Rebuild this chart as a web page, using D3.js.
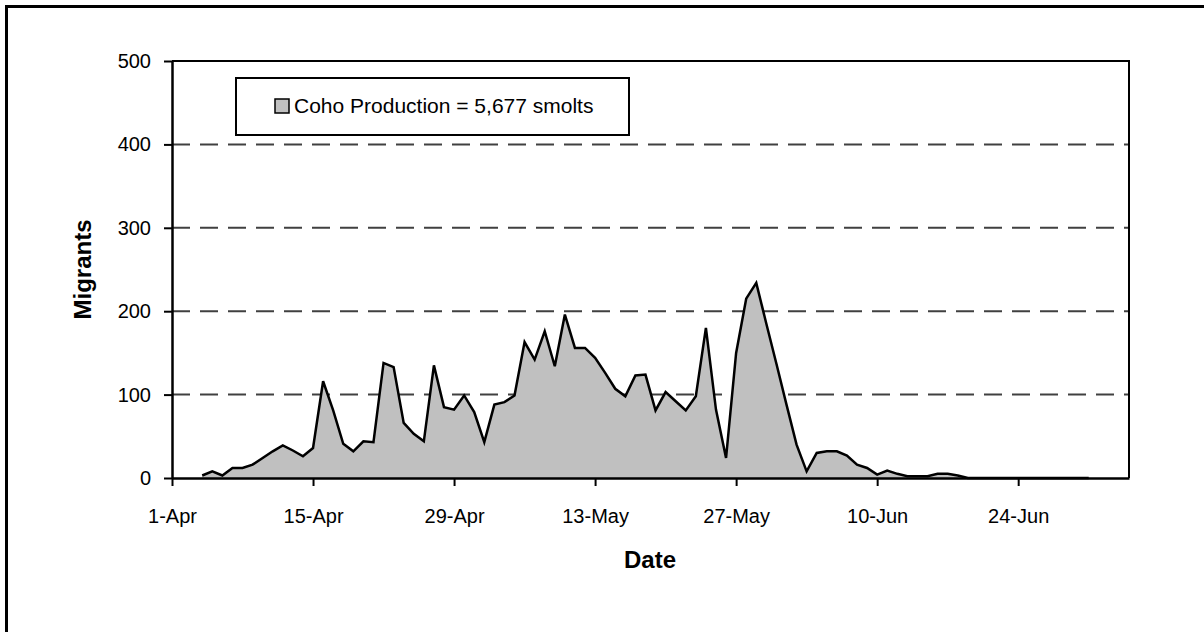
<!DOCTYPE html>
<html>
<head>
<meta charset="utf-8">
<script src="https://cdn.jsdelivr.net/npm/d3@7"></script>
<style>
  html, body { margin: 0; padding: 0; background: #fff; }
  svg { display: block; font-family: "Liberation Sans", Arial, sans-serif; }
</style>
</head>
<body>
<svg id="chart" width="1204" height="632"></svg>
<script>
// ---- Data (daily coho smolt migrants, starting 4-Apr) ----
const startDate = "2005-04-04";
const migrants = [
  3, 8, 3, 12, 12, 16, 24, 32, 39, 33, 26, 36,          // 4-Apr .. 15-Apr
  116, 81, 41, 32, 44, 43, 138, 133, 66, 53, 44, 135, 85, 82, // 16-Apr .. 29-Apr
  99, 79, 43, 88, 91, 99, 163, 142, 176, 134, 196, 156, 156, 144, // 30-Apr .. 13-May
  126, 107, 98, 123, 124, 81, 103, 92, 81, 98, 180, 82, 24, 150, // 14-May .. 27-May
  215, 234, 185, 137, 88, 40, 8, 30, 32, 32, 27, 16, 12, 4, 9, 5, 2, 2, 2, 5, 5, 3, // 28-May .. 18-Jun
  0, 0, 0, 0, 0, 0, 0, 0, 0, 0, 0, 0, 0                  // 19-Jun .. 1-Jul
];
const xDomain = ["2005-04-01", "2005-07-05"];
const xTickDates = ["2005-04-01", "2005-04-15", "2005-04-29", "2005-05-13", "2005-05-27", "2005-06-10", "2005-06-24"];
const yTicks = [0, 100, 200, 300, 400, 500];
const yGrid = [100, 200, 300, 400];
const legendLabel = "Coho Production = 5,677 smolts";
const xTitle = "Date";
const yTitle = "Migrants";

// ---- Build ----
(function () {
const parse = d3.utcParse("%Y-%m-%d");
const t0 = parse(startDate);
const data = migrants.map((v, i) => ({ date: d3.utcDay.offset(t0, i), value: v }));

const svg = d3.select("#chart");
const pL = 172, pR = 1129, pT = 61, pB = 478;

const x = d3.scaleUtc().domain(xDomain.map(parse)).range([pL, pR]);
const y = d3.scaleLinear().domain([0, 500]).range([pB, pT]);

// outer frame (extends past the picture on right/bottom)
svg.append("rect")
  .attr("x", 6.5).attr("y", 6.5).attr("width", 1260).attr("height", 700)
  .attr("fill", "none").attr("stroke", "#000").attr("stroke-width", 3);

// gridlines
svg.append("g").selectAll("line").data(yGrid).join("line")
  .attr("x1", pL).attr("x2", pR)
  .attr("y1", d => y(d)).attr("y2", d => y(d))
  .attr("stroke", "#404040").attr("stroke-width", 2)
  .attr("stroke-dasharray", "18,10");

// area + line
const area = d3.area().x(d => x(d.date)).y0(y(0)).y1(d => y(d.value));
const line = d3.line().x(d => x(d.date)).y(d => y(d.value));
svg.append("path").datum(data).attr("d", area).attr("fill", "#c0c0c0");
svg.append("path").datum(data).attr("d", line)
  .attr("fill", "none").attr("stroke", "#000").attr("stroke-width", 2.5)
  .attr("stroke-linejoin", "miter");

// plot border (top and right)
svg.append("path")
  .attr("d", `M${pL},${pT}H${pR}V${pB}`)
  .attr("fill", "none").attr("stroke", "#000").attr("stroke-width", 2);

// y axis
const yAxis = d3.axisLeft(y).tickValues(yTicks).tickSize(8).tickSizeOuter(0).tickPadding(13);
const gy = svg.append("g").attr("transform", `translate(${pL},0)`).call(yAxis);
gy.select(".domain").attr("stroke", "#000").attr("stroke-width", 2.5);
gy.selectAll(".tick line").attr("stroke", "#000").attr("stroke-width", 2);
gy.selectAll(".tick text").attr("font-size", 20).attr("fill", "#000")
  .attr("font-family", "Liberation Sans, Arial, sans-serif");

// x axis
const xAxis = d3.axisBottom(x).tickValues(xTickDates.map(parse))
  .tickFormat(d3.utcFormat("%-d-%b")).tickSize(8).tickSizeOuter(0);
const gx = svg.append("g").attr("transform", `translate(0,${pB})`).call(xAxis);
gx.select(".domain").attr("stroke", "#000").attr("stroke-width", 2.5);
gx.selectAll(".tick line").attr("stroke", "#000").attr("stroke-width", 2);
gx.selectAll(".tick text").attr("font-size", 20).attr("fill", "#000")
  .attr("font-family", "Liberation Sans, Arial, sans-serif")
  .attr("y", 45).attr("dy", 0);

// axis titles
svg.append("text").attr("x", 650).attr("y", 568).attr("text-anchor", "middle")
  .attr("font-size", 24).attr("font-weight", "bold").text(xTitle);
svg.append("text").attr("transform", `translate(91,${(pT + pB) / 2}) rotate(-90)`)
  .attr("text-anchor", "middle").attr("font-size", 24).attr("font-weight", "bold").text(yTitle);

// legend
const lg = svg.append("g");
lg.append("rect").attr("x", 236).attr("y", 78).attr("width", 393).attr("height", 57)
  .attr("fill", "#fff").attr("stroke", "#000").attr("stroke-width", 2);
lg.append("rect").attr("x", 275).attr("y", 99).attr("width", 14).attr("height", 14)
  .attr("fill", "#c0c0c0").attr("stroke", "#000").attr("stroke-width", 1.5);
lg.append("text").attr("x", 294).attr("y", 113).attr("font-size", 21).attr("fill", "#000").text(legendLabel);
})();
</script>
</body>
</html>
